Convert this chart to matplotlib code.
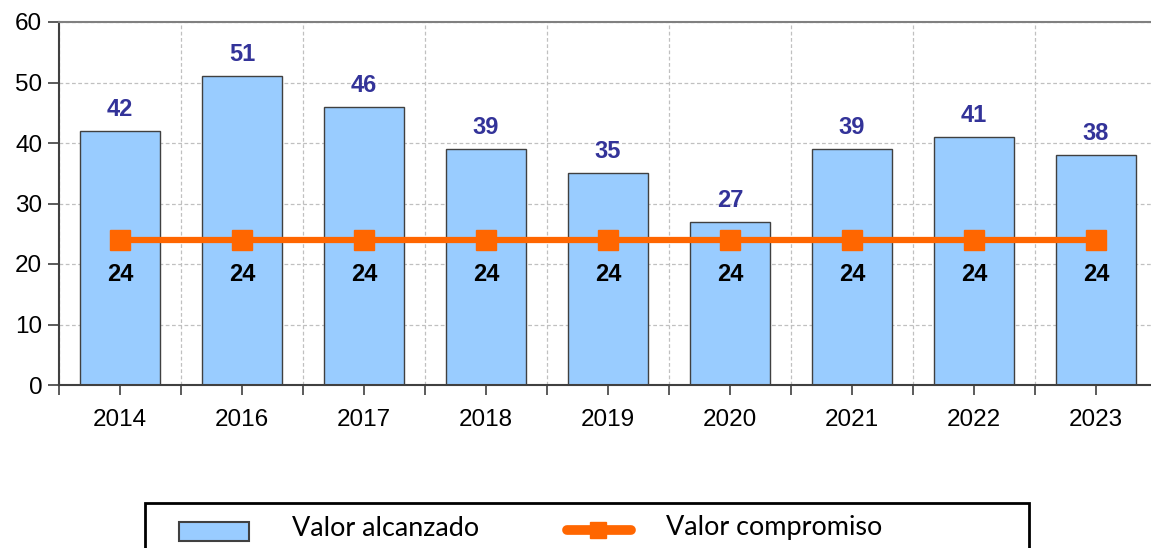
import matplotlib
matplotlib.use("Agg")
import matplotlib.pyplot as plt
from matplotlib.patches import Rectangle
from matplotlib.lines import Line2D
from matplotlib import font_manager
import numpy as np

years = ["2014", "2016", "2017", "2018", "2019", "2020", "2021", "2022", "2023"]
alcanzado = [42, 51, 46, 39, 35, 27, 39, 41, 38]
compromiso = [24, 24, 24, 24, 24, 24, 24, 24, 24]
yticks = [0, 10, 20, 30, 40, 50, 60]
legend_labels = ["Valor alcanzado", "Valor compromiso"]

plt.rcParams['font.family'] = ['Liberation Sans', 'DejaVu Sans']

avail = {f.name for f in font_manager.fontManager.ttflist}
legend_font = 'Lato' if 'Lato' in avail else 'Liberation Sans'

W, H = 1151, 548
fig = plt.figure(figsize=(W/100, H/100), dpi=100)
ax = fig.add_axes([59/W, 1-385/H, (1157-59)/W, (385-22)/H])

x = np.arange(len(years))
ax.bar(x, alcanzado, width=0.66, color='#99CCFF', edgecolor='#404040', linewidth=1.0, zorder=2)
ax.plot(x, compromiso, color='#FF6600', linewidth=4.5, marker='s', markersize=14,
        markerfacecolor='#FF6600', markeredgecolor='#FF6600', zorder=3)

for xi, v in zip(x, alcanzado):
    ax.annotate(str(v), (xi, v), xytext=(0, 15.5), textcoords='offset points',
                ha='center', va='center', fontsize=17, fontweight='bold', color='#333399')
for xi, v in zip(x, compromiso):
    ax.annotate(str(v), (xi, v), xytext=(0, -25), textcoords='offset points',
                ha='center', va='center', fontsize=17, fontweight='bold', color='black')

ax.set_xlim(-0.5, len(years) - 0.5)
ax.set_ylim(0, 60)
ax.set_yticks(yticks)
ax.set_yticklabels([str(t) for t in yticks])
ax.set_xticks(x)
ax.set_xticklabels(years)
ax.set_xticks(np.arange(len(years) + 1) - 0.5, minor=True)

ax.tick_params(axis='both', which='major', labelsize=17.5, color='#404040', width=1.2)
ax.tick_params(axis='y', length=8, pad=4)
ax.tick_params(axis='x', which='major', length=7, pad=10)
ax.tick_params(axis='x', which='minor', length=7, color='#404040', width=1.2)

ax.grid(axis='y', which='major', linestyle=(0, (3, 2)), color='#C0C0C0', linewidth=0.9, zorder=0)
ax.grid(axis='x', which='minor', linestyle=(0, (3, 2)), color='#C0C0C0', linewidth=0.9, zorder=0)
ax.set_axisbelow(True)

for s in ['left', 'bottom']:
    ax.spines[s].set_color('#404040')
    ax.spines[s].set_linewidth(1.5)
ax.spines['top'].set_color('#808080')
ax.spines['top'].set_linewidth(1.5)
ax.spines['right'].set_visible(False)

# Legend drawn in figure pixel coordinates
def fx(px):
    return px / W

def fy(py):
    return 1 - py / H

fig.patches.append(Rectangle((fx(145), fy(570)), fx(1029) - fx(145), fy(503) - fy(570),
                             transform=fig.transFigure, facecolor='white',
                             edgecolor='black', linewidth=2.0, zorder=5))
fig.patches.append(Rectangle((fx(179), fy(541)), fx(249) - fx(179), fy(522) - fy(541),
                             transform=fig.transFigure, facecolor='#99CCFF',
                             edgecolor='#404040', linewidth=1.5, zorder=6))
fig.lines.append(Line2D([fx(567), fx(631)], [fy(530), fy(530)], transform=fig.transFigure,
                        color='#FF6600', linewidth=7, solid_capstyle='round', zorder=6))
fig.lines.append(Line2D([fx(597.5)], [fy(530)], transform=fig.transFigure, marker='s',
                        markersize=11, color='#FF6600', linestyle='none', zorder=7))

t1 = fig.text(fx(292), fy(528), legend_labels[0], ha='left', va='center',
              family=legend_font, fontsize=17, zorder=7)
t2 = fig.text(fx(666), fy(528), legend_labels[1], ha='left', va='center',
              family=legend_font, fontsize=17, zorder=7)
fig.canvas.draw()
r = fig.canvas.get_renderer()
w1 = t1.get_window_extent(r).width
if w1 > 0:
    s = 17 * 187 / w1
    t1.set_fontsize(s)
    t2.set_fontsize(s)

fig.savefig('out.png', dpi=100)
